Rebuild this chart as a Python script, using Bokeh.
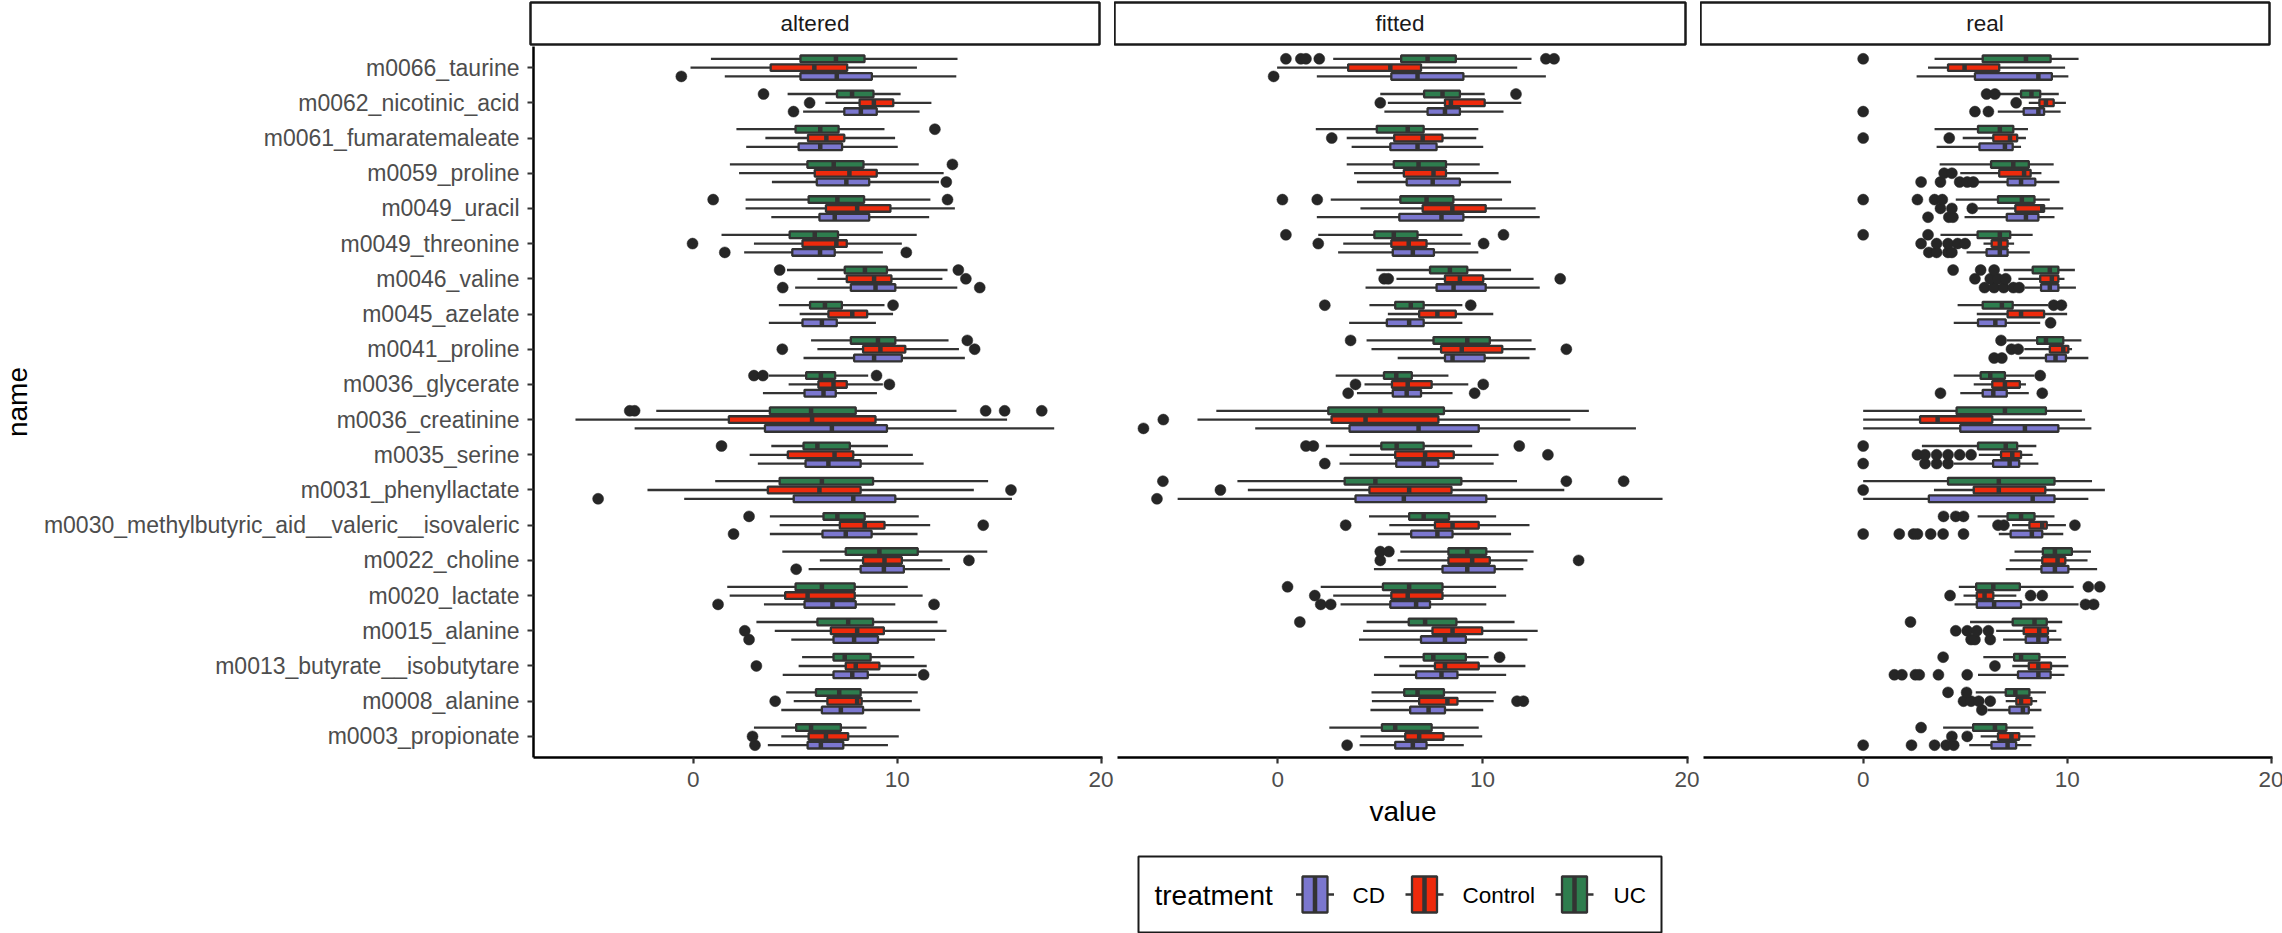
import math
from bokeh.plotting import figure
from bokeh.models import ColumnDataSource, FactorRange, Range1d, FixedTicker
from bokeh.layouts import row, column
from bokeh.transform import dodge
from bokeh.core.properties import value
from bokeh.embed import file_html
from bokeh.resources import INLINE

# ---------------- data ----------------
names = ["m0066_taurine", "m0062_nicotinic_acid", "m0061_fumaratemaleate", "m0059_proline",
         "m0049_uracil", "m0049_threonine", "m0046_valine", "m0045_azelate", "m0041_proline",
         "m0036_glycerate", "m0036_creatinine", "m0035_serine", "m0031_phenyllactate",
         "m0030_methylbutyric_aid__valeric__isovaleric", "m0022_choline", "m0020_lactate",
         "m0015_alanine", "m0013_butyrate__isobutytare", "m0008_alanine", "m0003_propionate"]
facets = ["altered", "fitted", "real"]
treatments = ["CD", "Control", "UC"]
colors = {"CD": "#7B77CF", "Control": "#EE2A0C", "UC": "#2E7D4E"}

# (lower whisker, Q1, median, Q3, upper whisker) per metabolite, same order as names
altered_UC = [(0.87, 5.26, 7.0, 8.4, 12.96), (4.63, 7.05, 7.79, 8.84, 10.17), (2.12, 5.02, 6.23, 7.13, 9.38),
              (1.8, 5.6, 6.89, 8.35, 11.06), (2.57, 5.66, 7.07, 8.38, 11.63), (1.39, 4.73, 5.96, 7.1, 10.96),
              (4.6, 7.43, 8.42, 9.5, 12.47), (4.2, 5.73, 6.46, 7.29, 9.38), (5.78, 7.73, 9.06, 9.91, 12.52),
              (3.71, 5.54, 6.26, 6.96, 8.58), (-1.81, 3.76, 5.78, 7.97, 12.91), (3.83, 5.41, 6.09, 7.68, 9.55),
              (1.08, 4.24, 6.31, 8.82, 14.46), (3.76, 6.39, 7.07, 8.41, 11.06), (4.37, 7.48, 9.13, 11.01, 14.42),
              (1.67, 5.02, 6.31, 7.92, 10.52), (3.1, 6.09, 7.6, 8.82, 11.98), (5.34, 6.88, 7.43, 8.7, 10.84),
              (4.56, 6.02, 7.16, 8.21, 11.01), (2.98, 5.05, 5.78, 7.24, 8.5)]
altered_UC_out = [[], [3.45], [11.85], [12.71], [0.98, 12.47], [], [4.24, 13.0], [9.8], [13.44],
                  [2.98, 3.42, 8.99], [-3.11, -2.87, 14.34, 15.27, 17.09], [1.39], [], [2.74], [], [], [],
                  [], [], []]
altered_Control = [(-0.13, 3.8, 5.94, 7.55, 10.97), (6.48, 8.16, 8.86, 9.81, 11.68), (3.54, 5.63, 6.53, 7.41, 9.9),
                   (2.25, 5.96, 7.66, 9.0, 12.28), (2.57, 6.51, 8.04, 9.67, 12.83), (2.98, 5.36, 7.02, 7.53, 10.23),
                   (6.09, 7.53, 8.87, 9.72, 12.22), (5.22, 6.63, 7.8, 8.53, 9.8), (6.09, 8.33, 9.18, 10.4, 13.03),
                   (4.68, 6.14, 6.88, 7.53, 9.3), (-5.77, 1.75, 5.83, 8.94, 15.39), (2.77, 4.64, 6.93, 7.85, 10.77),
                   (-2.24, 3.66, 6.19, 8.21, 13.76), (4.24, 7.19, 8.41, 9.38, 11.62), (6.21, 8.33, 9.38, 10.23, 12.22),
                   (1.79, 4.51, 5.61, 7.92, 11.25), (4.0, 6.75, 8.04, 9.35, 12.42), (5.17, 7.48, 7.97, 9.13, 11.45),
                   (4.93, 6.58, 8.04, 8.26, 10.72), (4.32, 5.66, 6.51, 7.6, 10.08)]
altered_Control_out = [[], [5.71], [], [], [], [-0.03], [13.37], [], [4.37, 13.8], [9.62], [], [], [15.58],
                       [14.22], [13.52], [], [2.53], [3.1], [4.02], [2.91]]
altered_CD = [(1.55, 5.26, 7.04, 8.76, 12.9), (5.39, 7.41, 8.22, 9.0, 11.1), (2.6, 5.17, 6.23, 7.3, 10.03),
              (3.86, 6.06, 7.51, 8.63, 12.05), (3.83, 6.19, 6.94, 8.63, 11.57), (2.5, 4.86, 6.22, 6.94, 9.3),
              (5.0, 7.73, 8.94, 9.91, 12.95), (3.71, 5.36, 6.31, 7.04, 8.96), (5.41, 7.89, 8.87, 10.23, 13.32),
              (3.42, 5.46, 6.39, 6.99, 9.01), (-2.87, 3.52, 6.8, 9.5, 17.7), (3.17, 5.51, 6.63, 8.21, 11.3),
              (-0.44, 4.93, 7.85, 9.91, 15.63), (3.76, 6.34, 7.48, 8.75, 11.0), (5.66, 8.21, 9.35, 10.33, 12.59),
              (3.47, 5.46, 6.83, 7.97, 9.91), (4.81, 6.88, 7.89, 9.06, 11.86), (4.39, 6.88, 7.8, 8.56, 10.96),
              (4.32, 6.31, 7.24, 8.33, 11.13), (3.66, 5.61, 6.26, 7.36, 9.55)]
altered_CD_out = [[-0.58], [4.92], [], [12.41], [], [1.55, 10.45], [4.39, 14.05], [], [], [], [], [],
                  [-4.66], [1.98], [5.05], [1.22, 11.81], [2.74], [11.3], [], [3.03]]

fitted_UC = [(2.71, 6.03, 7.32, 8.7, 12.4), (5.01, 7.15, 8.05, 8.9, 10.11), (1.86, 4.84, 6.35, 7.13, 9.8),
             (3.37, 5.67, 6.88, 8.22, 9.87), (2.59, 5.99, 7.27, 8.58, 10.96), (1.98, 4.72, 5.67, 6.83, 9.02),
             (4.82, 7.44, 8.41, 9.26, 11.4), (4.48, 5.74, 6.5, 7.13, 9.02), (4.34, 7.61, 9.26, 10.36, 12.4),
             (2.83, 5.19, 5.79, 6.55, 8.34), (-3.0, 2.47, 5.01, 8.12, 15.2), (2.35, 5.06, 5.81, 7.13, 9.5),
             (-1.97, 3.27, 4.77, 8.97, 11.69), (4.46, 6.42, 7.13, 8.37, 10.67), (5.99, 8.34, 9.26, 10.19, 12.5),
             (2.1, 5.14, 6.42, 8.05, 10.67), (4.34, 6.4, 7.2, 8.73, 11.57), (5.2, 7.13, 7.6, 9.19, 10.3),
             (4.58, 6.18, 6.83, 8.12, 10.67), (2.52, 5.09, 5.74, 7.52, 9.82)]
fitted_UC_out = [[0.4, 1.13, 1.38, 2.03, 13.1, 13.5], [11.64], [], [], [0.23, 1.93], [0.4, 11.03], [],
                 [2.3, 9.43], [3.56], [], [], [1.38, 1.74, 11.8], [-5.61, 14.1, 16.9], [], [5.01, 5.43], [0.48],
                 [1.08], [10.84], [], []]
fitted_Control = [(-0.03, 3.44, 5.5, 7.0, 11.7), (5.38, 8.17, 8.46, 10.11, 11.9), (3.37, 5.69, 7.08, 8.05, 9.7),
                  (3.73, 6.16, 7.61, 8.22, 10.79), (4.04, 7.08, 8.53, 10.16, 12.6), (3.2, 5.55, 6.4, 7.27, 9.43),
                  (5.8, 8.17, 8.9, 10.04, 12.5), (5.38, 6.91, 7.8, 8.7, 10.53), (4.58, 7.98, 8.99, 10.97, 12.6),
                  (4.24, 5.58, 6.35, 7.52, 9.31), (-3.92, 2.63, 4.29, 7.85, 14.3), (3.51, 5.74, 7.2, 8.6, 10.79),
                  (-1.46, 4.48, 6.42, 8.49, 14.0), (5.45, 7.68, 8.54, 9.82, 12.3), (5.86, 8.34, 9.5, 10.36, 12.2),
                  (2.71, 5.55, 6.35, 8.05, 11.16), (4.17, 7.56, 8.54, 9.99, 12.7), (5.94, 7.68, 8.17, 9.82, 12.1),
                  (4.6, 6.91, 8.29, 8.78, 10.55), (4.04, 6.23, 6.91, 8.1, 9.99)]
fitted_Control_out = [[], [5.01], [2.64], [], [], [1.98, 10.06], [5.2, 5.4, 13.8], [], [14.1], [3.8, 10.04],
                      [-5.59], [13.2], [-2.8], [3.32], [5.01, 14.7], [1.81], [], [], [11.69, 12.0], []]
fitted_CD = [(1.91, 5.55, 6.83, 9.07, 13.1), (5.21, 7.32, 8.17, 8.9, 11.03), (3.61, 5.5, 6.83, 7.76, 10.04),
             (3.87, 6.3, 7.57, 8.9, 11.4), (1.91, 5.94, 8.0, 9.07, 12.8), (2.95, 5.62, 6.6, 7.63, 9.8),
             (4.29, 7.76, 8.59, 10.16, 12.8), (3.49, 5.33, 6.42, 7.13, 9.02), (5.86, 8.17, 8.54, 10.11, 12.3),
             (3.87, 5.62, 6.3, 7.0, 8.54), (-1.1, 3.51, 6.88, 9.82, 17.5), (3.02, 5.79, 7.13, 7.85, 10.55),
             (-4.89, 3.8, 6.16, 10.19, 18.8), (4.89, 6.52, 7.8, 8.54, 11.4), (4.7, 8.05, 9.26, 10.6, 12.0),
             (3.07, 5.5, 6.76, 7.44, 10.19), (3.97, 7.0, 8.17, 9.19, 12.2), (4.7, 6.76, 8.0, 8.78, 11.16),
             (4.53, 6.47, 7.37, 8.17, 10.04), (4.0, 5.74, 6.6, 7.27, 9.09)]
fitted_CD_out = [[-0.2], [], [], [], [], [], [], [], [], [3.44, 9.62], [-6.56], [2.3], [-5.9], [], [],
                 [2.1, 2.59], [], [], [], [3.39]]

real_UC = [(3.5, 5.86, 7.98, 9.19, 10.56), (6.7, 7.74, 8.25, 8.68, 9.59), (3.5, 5.63, 6.7, 7.36, 8.08),
           (3.75, 6.27, 7.36, 8.12, 9.34), (4.54, 6.61, 7.78, 8.4, 9.15), (3.79, 5.61, 6.7, 7.21, 8.31),
           (6.89, 8.31, 9.15, 9.57, 10.38), (4.63, 5.86, 6.8, 7.33, 9.06), (7.04, 8.53, 8.96, 9.81, 10.7),
           (4.44, 5.76, 6.23, 6.95, 8.4), (0.0, 4.58, 6.95, 8.96, 10.72), (2.88, 5.63, 6.99, 7.55, 8.49),
           (0.0, 4.16, 6.65, 9.38, 11.22), (5.61, 7.08, 7.74, 8.4, 9.38), (7.42, 8.81, 9.4, 10.23, 11.17),
           (4.69, 5.54, 6.38, 7.68, 10.32), (5.24, 7.33, 8.4, 9.0, 9.76), (5.89, 7.4, 7.74, 8.64, 9.94),
           (5.52, 6.99, 7.46, 8.15, 8.96), (3.92, 5.39, 6.46, 7.02, 8.34)]
real_UC_out = [[0.0], [6.05, 6.46], [], [], [0.0, 2.66, 3.5, 3.88], [0.0, 3.18], [4.41, 5.76, 6.42],
               [9.34, 9.72], [6.76], [8.68], [], [0.0], [], [3.94, 4.54, 4.92], [], [11.04, 11.6], [2.32],
               [3.92], [4.16, 5.07], [2.84]]
real_Control = [(3.18, 4.16, 4.97, 6.67, 9.9), (8.12, 8.64, 8.96, 9.34, 9.94), (4.88, 6.38, 7.2, 7.55, 7.98),
                (4.76, 6.67, 7.89, 8.21, 8.74), (5.6, 7.46, 8.78, 8.87, 9.81), (5.9, 6.3, 6.7, 7.08, 7.4),
                (7.61, 8.68, 9.25, 9.57, 9.87), (5.57, 7.08, 7.74, 8.87, 10.0), (7.9, 9.15, 9.81, 10.06, 10.24),
                (5.42, 6.33, 6.95, 7.68, 7.98), (0.0, 2.79, 3.65, 6.33, 10.88), (5.67, 6.76, 7.31, 7.74, 8.31),
                (3.47, 5.42, 6.65, 8.93, 11.85), (7.3, 8.15, 8.78, 9.0, 9.94), (7.18, 8.78, 9.53, 9.91, 11.0),
                (4.92, 5.57, 5.95, 6.38, 7.51), (6.52, 7.87, 8.63, 9.06, 9.47), (7.31, 8.12, 8.59, 9.21, 10.06),
                (6.99, 7.51, 7.74, 8.25, 8.53), (5.76, 6.61, 7.27, 7.65, 8.44)]
real_Control_out = [[], [7.5], [0.0, 4.22], [3.97, 4.35], [3.79, 4.35, 5.35], [2.84, 3.6, 4.16, 4.63, 5.0],
                    [5.48, 6.23, 6.61, 6.99], [], [7.27, 7.6], [], [], [2.66, 3.03, 3.6, 4.16, 4.73, 5.29],
                    [0.0], [6.61, 6.9, 10.38], [], [4.26, 8.21, 8.78], [4.54, 5.1, 5.57, 6.14], [6.46],
                    [4.92, 5.29, 5.67, 6.23], [4.35, 5.1]]
real_CD = [(2.62, 5.48, 8.59, 9.25, 10.06), (6.6, 7.87, 8.59, 8.87, 9.68), (3.6, 5.7, 6.95, 7.33, 7.74),
           (5.6, 7.08, 7.74, 8.44, 9.62), (4.97, 7.04, 7.98, 8.59, 9.38), (5.07, 6.05, 6.7, 7.08, 8.17),
           (7.93, 8.72, 9.15, 9.57, 10.43), (4.44, 5.63, 6.48, 6.99, 8.68), (7.65, 8.96, 9.43, 9.94, 11.04),
           (4.76, 5.86, 6.38, 7.04, 8.12), (0.0, 4.76, 7.93, 9.57, 11.19), (4.44, 6.37, 7.18, 7.65, 8.59),
           (0.0, 3.22, 8.31, 9.38, 11.04), (6.65, 7.23, 8.27, 8.78, 9.81), (6.99, 8.74, 9.4, 10.06, 11.47),
           (4.48, 5.57, 6.42, 7.74, 10.56), (6.86, 7.97, 8.59, 9.06, 9.72), (5.63, 7.59, 8.59, 9.19, 9.87),
           (6.1, 7.17, 7.83, 8.12, 8.74), (5.2, 6.29, 7.08, 7.5, 8.25)]
real_CD_out = [[], [0.0, 5.48, 6.14], [], [2.84, 3.79, 4.73, 5.1, 5.4], [3.18, 4.2, 4.4], [3.22, 3.6, 4.16, 4.35],
               [5.95, 6.42, 6.89, 7.36, 7.65], [9.19], [6.42, 6.8], [3.79, 8.78], [], [0.0, 3.03, 3.6, 4.16],
               [], [0.0, 1.77, 2.47, 2.66, 3.31, 3.92, 4.92], [], [10.9, 11.3], [5.29, 5.48, 6.23],
               [1.53, 1.9, 2.56, 2.75, 3.69, 5.1], [5.82], [0.0, 2.37, 3.5, 4.07, 4.44]]

x_ticks = [0, 10, 20]

DATA = {
    ("altered", "CD"): (altered_CD, altered_CD_out),
    ("altered", "Control"): (altered_Control, altered_Control_out),
    ("altered", "UC"): (altered_UC, altered_UC_out),
    ("fitted", "CD"): (fitted_CD, fitted_CD_out),
    ("fitted", "Control"): (fitted_Control, fitted_Control_out),
    ("fitted", "UC"): (fitted_UC, fitted_UC_out),
    ("real", "CD"): (real_CD, real_CD_out),
    ("real", "Control"): (real_Control, real_Control_out),
    ("real", "UC"): (real_UC, real_UC_out),
}

# ---------------- style ----------------
FONT = "Liberation Sans"
OUTLINE = "#333333"
TICK_GREY = "#4D4D4D"
DODGE = {"CD": -0.25, "Control": 0.0, "UC": 0.25}
BOX_H = 0.19
MED_HALF = 0.095

# x range: data range expanded by 5 % (ggplot default)
all_vals = []
for (st, outs) in DATA.values():
    for s in st:
        all_vals += list(s)
    for o in outs:
        all_vals += o
lo_v, hi_v = min(all_vals), max(all_vals)
pad = (hi_v - lo_v) * 0.05
XLO, XHI = lo_v - pad, hi_v + pad

# discrete axis: 0.6 category units from the panel edge to the first / last centre
yr = FactorRange(factors=list(reversed(names)), range_padding=0.1, range_padding_units="absolute",
                 factor_padding=0)

FRAME_H = 711
BOTTOM = 90
NAME_W = 40
panel_geom = {  # left border, frame width, right border
    "altered": (490, 569, 15),
    "fitted": (0, 571, 15),
    "real": (0, 569, 13),
}


def make_panel(facet):
    lb, fw, rb = panel_geom[facet]
    show_y = facet == "altered"
    p = figure(x_range=Range1d(XLO, XHI), y_range=yr, frame_width=fw, frame_height=FRAME_H,
               min_border_left=lb, min_border_right=rb, min_border_top=0, min_border_bottom=BOTTOM,
               output_backend="svg", toolbar_location=None,
               y_axis_location="left" if show_y else None)
    p.outline_line_color = None
    p.xgrid.visible = False
    p.ygrid.visible = False
    p.background_fill_color = "white"
    p.border_fill_color = "white"

    xa = p.xaxis[0]
    xa.ticker = FixedTicker(ticks=x_ticks)
    xa.minor_tick_line_color = None
    xa.axis_line_color = "black"
    xa.axis_line_width = 2.5
    xa.major_tick_line_color = OUTLINE
    xa.major_tick_line_width = 2.2
    xa.major_tick_out = 6
    xa.major_tick_in = 0
    xa.major_label_standoff = 8
    xa.major_label_text_font = FONT
    xa.major_label_text_font_size = "22.5px"
    xa.major_label_text_color = TICK_GREY
    if facet == "fitted":
        xa.axis_label = "value"
        xa.axis_label_text_font = FONT
        xa.axis_label_text_font_size = "28px"
        xa.axis_label_text_font_style = "normal"
        xa.axis_label_text_color = "black"
        xa.axis_label_standoff = 6

    if show_y:
        ya = p.yaxis[0]
        ya.axis_line_color = "black"
        ya.axis_line_width = 2.5
        ya.major_tick_line_color = OUTLINE
        ya.major_tick_line_width = 2.2
        ya.major_tick_out = 6
        ya.major_tick_in = 0
        ya.major_label_standoff = 8
        ya.major_label_text_font = FONT
        ya.major_label_text_font_size = "23px"
        ya.major_label_text_color = TICK_GREY
        ya.major_label_orientation = "horizontal"

    for t in treatments:
        stats, outs = DATA[(facet, t)]
        off = DODGE[t]
        src = ColumnDataSource(dict(
            name=names,
            lo=[s[0] for s in stats], q1=[s[1] for s in stats], med=[s[2] for s in stats],
            q3=[s[3] for s in stats], hi=[s[4] for s in stats]))
        yc = dodge("name", off, range=yr)
        p.segment(x0="lo", y0=yc, x1="hi", y1=yc, source=src, line_color=OUTLINE, line_width=2.3)
        p.hbar(y=yc, left="q1", right="q3", height=BOX_H, source=src,
               fill_color=colors[t], line_color=OUTLINE, line_width=2.3)
        p.segment(x0="med", y0=dodge("name", off - MED_HALF, range=yr),
                  x1="med", y1=dodge("name", off + MED_HALF, range=yr),
                  source=src, line_color=OUTLINE, line_width=4.5)
        on, ov = [], []
        for n, lst in zip(names, outs):
            for v in lst:
                on.append(n)
                ov.append(v)
        osrc = ColumnDataSource(dict(name=on, v=ov))
        p.scatter(x="v", y=yc, source=osrc, size=11, fill_color="#262626", line_color="#262626",
                  line_width=0.5)
    return p


def make_strip(facet):
    lb, fw, rb = panel_geom[facet]
    if facet == "altered":
        lb += NAME_W
    s = figure(x_range=Range1d(0, 1), y_range=Range1d(0, 1), frame_width=fw, frame_height=42,
               min_border_left=lb, min_border_right=rb, min_border_top=2, min_border_bottom=2,
               output_backend="svg", toolbar_location=None, x_axis_location=None, y_axis_location=None)
    s.grid.visible = False
    s.outline_line_color = "#1A1A1A"
    s.outline_line_width = 2.5
    s.background_fill_color = "white"
    s.border_fill_color = "white"
    s.text(x=[0.5], y=[0.5], text=[facet], text_align="center", text_baseline="middle",
           text_font=value(FONT), text_font_size="22.5px", text_color="#1A1A1A")
    return s


# y-axis title column
name_fig = figure(x_range=Range1d(0, NAME_W), y_range=Range1d(0, FRAME_H), frame_width=NAME_W,
                  frame_height=FRAME_H, min_border_left=0, min_border_right=0, min_border_top=0,
                  min_border_bottom=BOTTOM, output_backend="svg", toolbar_location=None,
                  x_axis_location=None, y_axis_location=None)
name_fig.grid.visible = False
name_fig.outline_line_color = None
name_fig.text(x=[17], y=[FRAME_H / 2], text=["name"], angle=math.pi / 2, text_align="center",
              text_baseline="middle", text_font=value(FONT), text_font_size="28px", text_color="black")

# legend (layout in pixel units of a full-width strip)
LEG_W, LEG_H = 2282, 86
leg = figure(x_range=Range1d(0, LEG_W), y_range=Range1d(0, LEG_H), frame_width=LEG_W, frame_height=LEG_H,
             min_border_left=0, min_border_right=0, min_border_top=0, min_border_bottom=0,
             output_backend="svg", toolbar_location=None, x_axis_location=None, y_axis_location=None)
leg.grid.visible = False
leg.outline_line_color = None
leg.quad(left=[1138], right=[1661], bottom=[1], top=[77], fill_color="white",
         line_color="#1A1A1A", line_width=2)
leg.text(x=[1154], y=[38], text=["treatment"], text_align="left", text_baseline="middle",
         text_font=value(FONT), text_font_size="28px", text_color="black")
key_x = {"CD": 1314.5, "Control": 1424, "UC": 1574}
lab_x = {"CD": 1352, "Control": 1462, "UC": 1613}
for t in treatments:
    cx = key_x[t]
    leg.segment(x0=[cx - 19], y0=[39], x1=[cx + 19], y1=[39], line_color=OUTLINE, line_width=2.3)
    leg.quad(left=[cx - 12.5], right=[cx + 12.5], bottom=[21], top=[57], fill_color=colors[t],
             line_color=OUTLINE, line_width=2.3)
    leg.segment(x0=[cx], y0=[21], x1=[cx], y1=[57], line_color=OUTLINE, line_width=4.5)
    leg.text(x=[lab_x[t]], y=[38], text=[t], text_align="left", text_baseline="middle",
             text_font=value(FONT), text_font_size="22.5px", text_color="black")

strips = row(make_strip("altered"), make_strip("fitted"), make_strip("real"))
panels = row(name_fig, make_panel("altered"), make_panel("fitted"), make_panel("real"))
layout = column(strips, panels, leg)

open("out.html", "w").write(file_html(layout, INLINE))
